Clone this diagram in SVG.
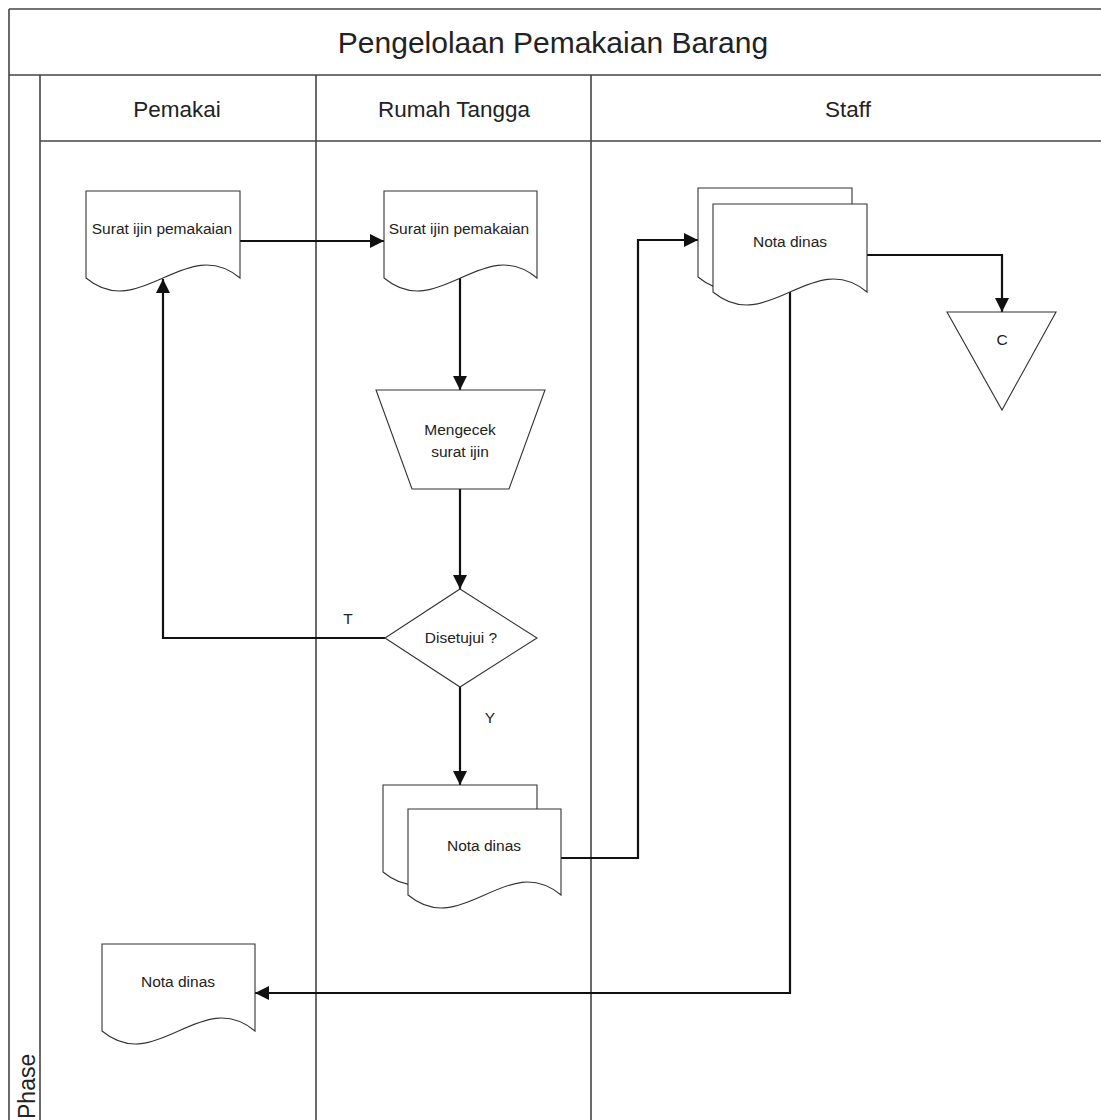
<svg xmlns="http://www.w3.org/2000/svg" width="1101" height="1120" viewBox="0 0 1101 1120">
<style>
  .frame { fill: none; stroke: #444; stroke-width: 1.6; }
  .shape { fill: #fff; stroke: #333; stroke-width: 1.1; }
  .conn { fill: none; stroke: #111; stroke-width: 2.2; }
  text { font-family: "Liberation Sans", Arial, sans-serif; fill: #222; }
  .title { font-size: 30px; text-anchor: middle; }
  .lane { font-size: 22.5px; text-anchor: middle; }
  .lbl { font-size: 15.5px; text-anchor: middle; }
</style>
<defs>
  <marker id="arrow" markerUnits="userSpaceOnUse" markerWidth="14" markerHeight="14" refX="14" refY="7" orient="auto">
    <path d="M0,0 L14,7 L0,14 Z" fill="#111"/>
  </marker>
</defs>
<rect width="1101" height="1120" fill="#fff"/>

<g id="swimlanes">
  <line class="frame" x1="9" y1="9" x2="1101" y2="9"/>
  <line class="frame" x1="9" y1="9" x2="9" y2="1120"/>
  <line class="frame" x1="9" y1="75" x2="1101" y2="75"/>
  <line class="frame" x1="40" y1="75" x2="40" y2="1120"/>
  <line class="frame" x1="40" y1="141" x2="1101" y2="141"/>
  <line class="frame" x1="316" y1="75" x2="316" y2="1120"/>
  <line class="frame" x1="591" y1="75" x2="591" y2="1120"/>
  <text class="title" x="553" y="53">Pengelolaan Pemakaian Barang</text>
  <text class="lane" x="177" y="117">Pemakai</text>
  <text class="lane" x="454" y="117">Rumah Tangga</text>
  <text class="lane" x="848" y="117">Staff</text>
  <text font-size="23" transform="translate(35,1119) rotate(-90)">Phase</text>
</g>

<g id="connectors">
  <path class="conn" d="M240,241 H384" marker-end="url(#arrow)"/>
  <path class="conn" d="M460,278 V390" marker-end="url(#arrow)"/>
  <path class="conn" d="M460,489 V589" marker-end="url(#arrow)"/>
  <path class="conn" d="M385,638 H163 V279" marker-end="url(#arrow)"/>
  <path class="conn" d="M460,687 V785" marker-end="url(#arrow)"/>
  <path class="conn" d="M561,858 H638 V240 H698" marker-end="url(#arrow)"/>
  <path class="conn" d="M867,255 H1002 V312" marker-end="url(#arrow)"/>
  <path class="conn" d="M790,292 V993 H255" marker-end="url(#arrow)"/>
  <text class="lbl" x="348" y="624">T</text>
  <text class="lbl" x="490" y="723">Y</text>
</g>

<g id="doc-pemakai-surat">
  <path class="shape" d="M86,191 H240 V278 C186,233 140,323 86,278 Z"/>
  <text class="lbl" x="162" y="234">Surat ijin pemakaian</text>
</g>

<g id="doc-rt-surat">
  <path class="shape" d="M384,191 H537 V278 C483,233 438,323 384,278 Z"/>
  <text class="lbl" x="459" y="234">Surat ijin pemakaian</text>
</g>

<g id="manual-mengecek">
  <path class="shape" d="M376,390 H545 L509,489 H412 Z"/>
  <text class="lbl" x="460" y="435">Mengecek</text>
  <text class="lbl" x="460" y="457">surat ijin</text>
</g>

<g id="decision-disetujui">
  <path class="shape" d="M460,589 L537,638 L460,687 L385,638 Z"/>
  <text class="lbl" x="461" y="643">Disetujui ?</text>
</g>

<g id="docs-rt-nota">
  <path class="shape" d="M383,785 H537 V872 C483,827 437,917 383,872 Z"/>
  <path class="shape" d="M408,809 H561 V895 C507,850 462,940 408,895 Z"/>
  <text class="lbl" x="484" y="851">Nota dinas</text>
</g>

<g id="docs-staff-nota">
  <path class="shape" d="M698,188 H852 V277 C798,232 752,322 698,277 Z"/>
  <path class="shape" d="M713,204 H867 V292 C813,247 767,337 713,292 Z"/>
  <text class="lbl" x="790" y="247">Nota dinas</text>
</g>

<g id="offpage-c">
  <path class="shape" d="M947,312 H1056 L1002,410 Z"/>
  <text class="lbl" x="1002" y="345">C</text>
</g>

<g id="doc-pemakai-nota">
  <path class="shape" d="M102,944 H255 V1031 C201,986 156,1076 102,1031 Z"/>
  <text class="lbl" x="178" y="987">Nota dinas</text>
</g>
</svg>
